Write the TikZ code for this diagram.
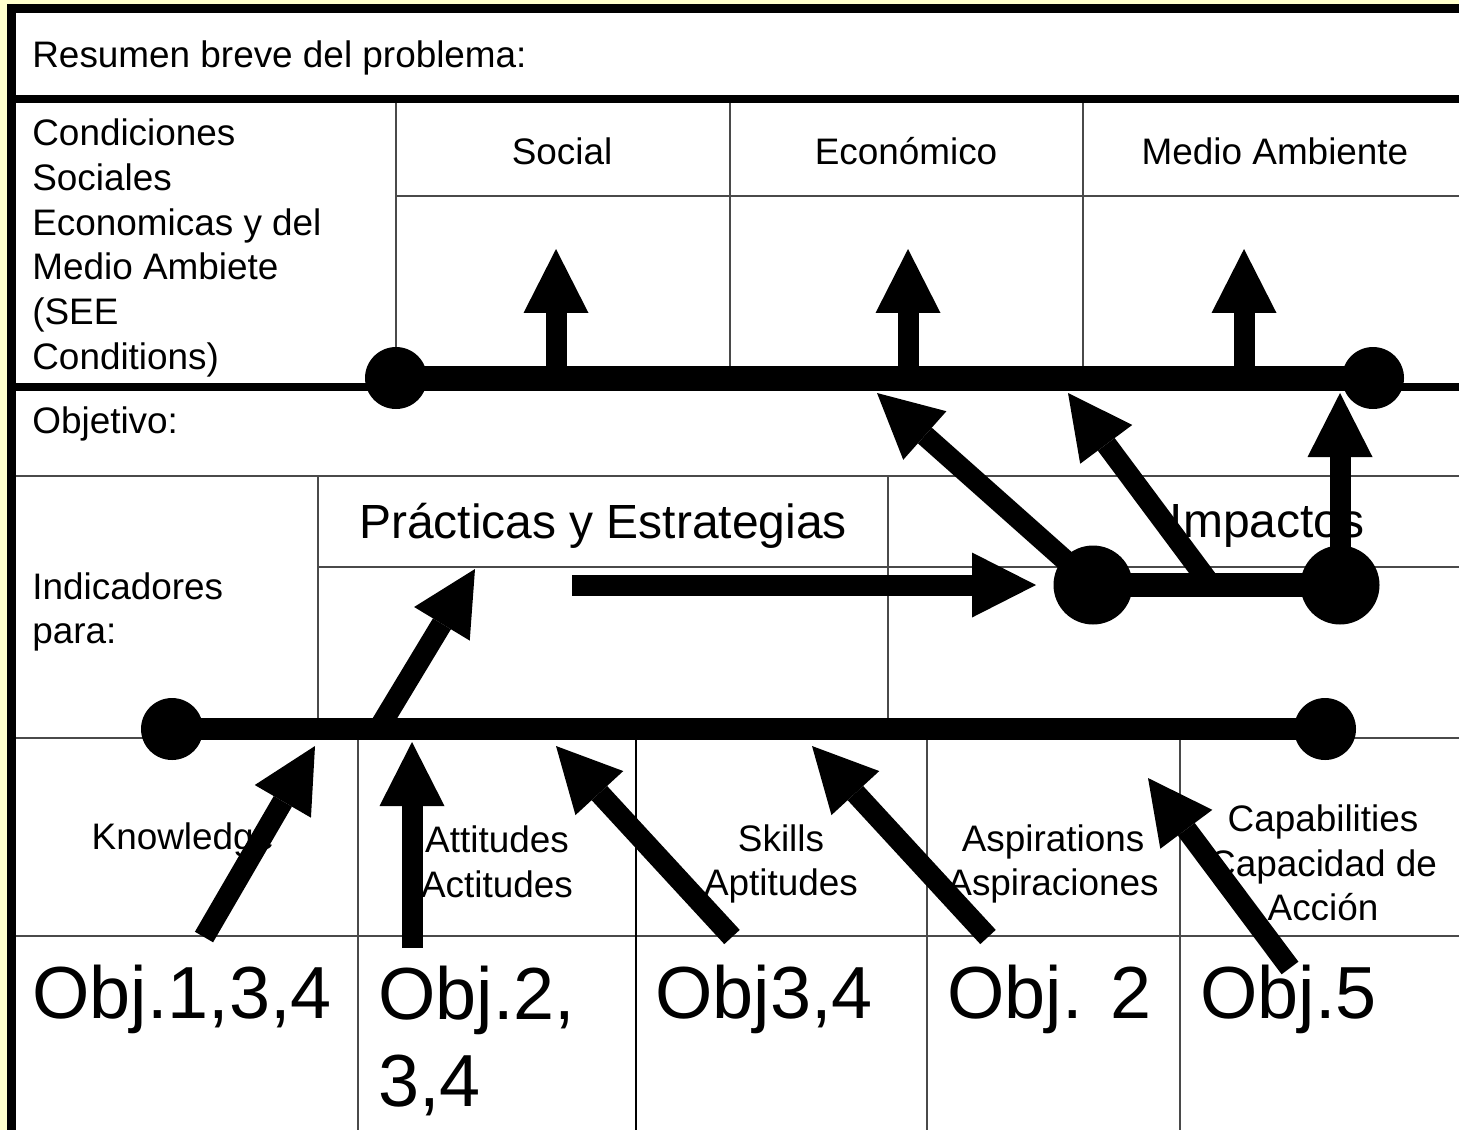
\documentclass[tikz,border=0pt]{standalone}
\usepackage{fontspec}
\setmainfont{Liberation Sans}
\usepackage{tikz}
\usetikzlibrary{arrows.meta}
\definecolor{paleyellow}{HTML}{FFFFCC}
\definecolor{gridgray}{HTML}{4A4A4A}

\begin{document}
\begin{tikzpicture}[
    x=0.02cm, y=-0.02cm,
    frame/.style={line width=0.17cm},
    grid/.style={gridgray, line width=0.8pt},
    txt/.style={inner sep=0pt, font=\fontsize{21}{25.4}\selectfont},
    ltxt/.style={txt, anchor=west, align=left},
    ctxt/.style={txt, align=center},
    objtxt/.style={inner sep=0pt, anchor=west, align=left, font=\fontsize{42}{50}\selectfont},
    dot/.style={circle, fill, inner sep=0pt, minimum size=1.24cm},
    bigdot/.style={circle, fill, inner sep=0pt, minimum size=1.58cm},
    spine/.style={line width=0.5cm},
    bone/.style={line width=0.42cm, -{Triangle[length=1.28cm, width=1.3cm, line width=0pt]}},
]
\useasboundingbox (0,0) rectangle (1459,1130);
\fill[paleyellow] (0,0) rectangle (1459,1130);
\fill[white] (11,8) rectangle (1459,1130);

% table
\draw[frame] (1459,8.5) -- (11.5,8.5) -- (11.5,1130);
\draw[frame] (7,99) -- (1459,99);
\draw[frame] (7,387) -- (1459,387);
\draw[grid] (396,103) -- (396,383) (730,103) -- (730,383) (1083,103) -- (1083,383);
\draw[grid] (396,196) -- (1459,196);
\draw[grid] (16,476) -- (1459,476);
\draw[grid] (318,476) -- (318,738) (888,476) -- (888,738);
\draw[grid] (318,567) -- (1459,567);
\draw[grid] (16,738) -- (1459,738);
\draw[grid] (16,936) -- (1459,936);
\draw[grid] (358,738) -- (358,1130) (927,738) -- (927,1130) (1180,738) -- (1180,1130);
\draw[grid, black, line width=1.3pt] (636,738) -- (636,1130);

\node[ltxt] (resumen) at (32,58) {Resumen breve del problema:};
\node[ltxt] (see) at (32,248) {Condiciones\\Sociales\\Economicas y del\\Medio Ambiete\\(SEE\\Conditions)};
\node[ctxt] (social) at (562,151) {Social};
\node[ctxt] (economico) at (906,151) {Económico};
\node[ctxt] (medio) at (1275,151) {Medio Ambiente};
\node[ltxt] (objetivo) at (32,424) {Objetivo:};
\node[ltxt] (indicadores) at (32,612) {Indicadores\\para:};
\node[inner sep=0pt, font=\fontsize{27.3}{32}\selectfont] (practicas) at (603,526) {Prácticas y Estrategias};
\node[inner sep=0pt, font=\fontsize{27.3}{32}\selectfont] (impactos) at (1267,526) {Impactos};
\node[ctxt] (knowledge) at (183,840) {Knowledge};
\node[ctxt] (attitudes) at (497,862) {Attitudes\\Actitudes};
\node[ctxt] (skills) at (781,864) {Skills\\Aptitudes};
\node[ctxt] (aspirations) at (1053,864) {Aspirations\\Aspiraciones};
\node[ctxt] (capabilities) at (1323,863) {Capabilities\\Capacidad de\\Acción};
\node[objtxt] (obj1) at (32,999) {Obj.1,3,4};
\node[objtxt] (obj2) at (378,1041) {Obj.2,\\3,4};
\node[objtxt] (obj3) at (655,999) {Obj3,4};
\node[objtxt] (obj4) at (947,999) {Obj. 2};
\node[objtxt] (obj5) at (1200,999) {Obj.5};

% upper spine
\node[dot] (u1) at (396,378) {};
\node[dot] (u2) at (1373,378) {};
\coordinate (us1) at (556,378);
\coordinate (ut1) at (556,249);
\coordinate (us2) at (908,378);
\coordinate (ut2) at (908,249);
\coordinate (us3) at (1244,378);
\coordinate (ut3) at (1244,249);
\draw[spine] (u1.center) -- (u2.center);
\draw[bone] (us1) -- (ut1);
\draw[bone] (us2) -- (ut2);
\draw[bone] (us3) -- (ut3);

% lower spine
\node[dot] (l1) at (172,729) {};
\node[dot] (l2) at (1325,729) {};
\draw[spine, line width=0.44cm] (l1.center) -- (l2.center);
\coordinate (ls0) at (379,728);
\coordinate (lt0) at (475,569);
\draw[bone] (ls0) -- (lt0);
\coordinate (kb) at (204,937);
\coordinate (kt) at (315,746);
\coordinate (ab) at (412,948);
\coordinate (at) at (412,742);
\coordinate (sb) at (732,937);
\coordinate (st) at (556,746);
\coordinate (pb) at (988,937);
\coordinate (pt) at (812,746);
\coordinate (cb) at (1290,968);
\coordinate (ct) at (1148,778);
\draw[bone] (kb) -- (kt);
\draw[bone] (ab) -- (at);
\draw[bone] (sb) -- (st);
\draw[bone] (pb) -- (pt);
\draw[bone] (cb) -- (ct);

% impactos
\node[bigdot] (i1) at (1093,585) {};
\node[bigdot] (i2) at (1340,585) {};
\draw[spine, line width=0.48cm] (i1.center) -- (i2.center);
\coordinate (h0) at (572,585);
\coordinate (h1) at (1036,585);
\draw[bone] (h0) -- (h1);
\coordinate (is2) at (1211,585);
\coordinate (it1) at (877,393);
\coordinate (it2) at (1068,393);
\coordinate (it3) at (1340,393);
\draw[bone] (i1.center) -- (it1);
\draw[bone] (is2) -- (it2);
\draw[bone] (i2.center) -- (it3);
\end{tikzpicture}
\end{document}
